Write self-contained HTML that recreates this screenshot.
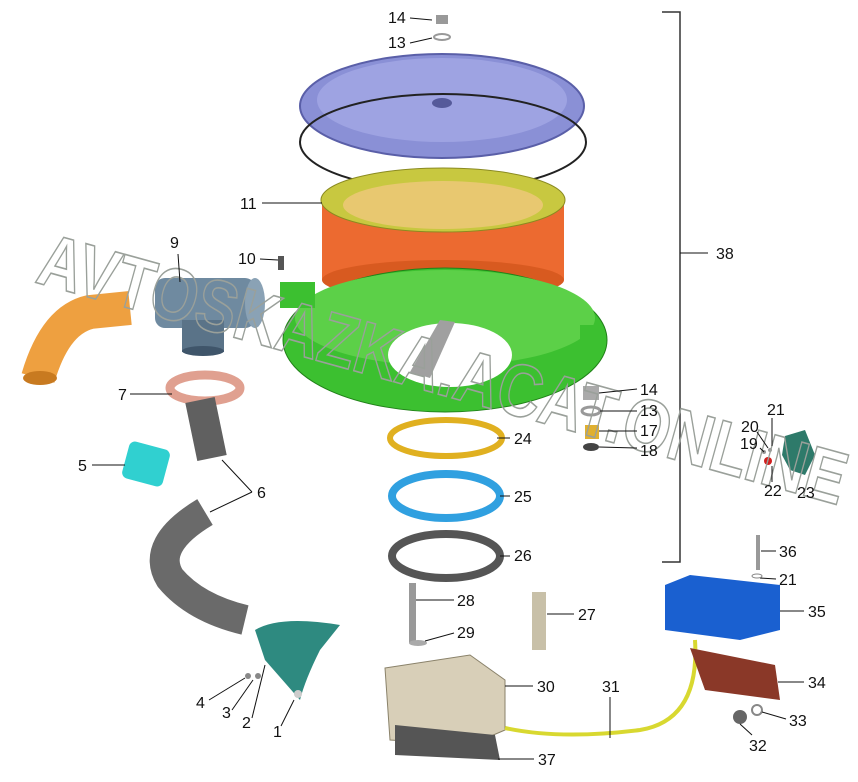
<!DOCTYPE html>
<html><head><meta charset="utf-8"><style>
html,body{margin:0;padding:0;background:#fff;}
svg{display:block;}
text{font-family:"Liberation Sans",Arial,sans-serif;}
.l{font-size:16px;fill:#111;}
.ld{stroke:#111;stroke-width:1;fill:none;}
</style></head><body>
<svg width="858" height="782" viewBox="0 0 858 782" xmlns="http://www.w3.org/2000/svg">
<path d="M662 12 H680 V562 H662" stroke="#333" stroke-width="1.5" fill="none"/>
<line x1="680" y1="253" x2="708" y2="253" class="ld"/>
<text x="716" y="259" class="l">38</text>

<path d="M38 378 Q55 320 90 312 L130 308" stroke="#eea040" stroke-width="34" fill="none"/>
<ellipse cx="40" cy="378" rx="17" ry="7" fill="#c87a20"/>
<rect x="155" y="278" width="100" height="50" rx="10" fill="#6f8aa0"/>
<ellipse cx="255" cy="303" rx="10" ry="25" fill="#8aa2b5"/>
<rect x="182" y="320" width="42" height="32" fill="#5a7388"/>
<ellipse cx="203" cy="351" rx="21" ry="5" fill="#3f556a"/>
<rect x="278" y="256" width="6" height="14" fill="#555"/>

<ellipse cx="442" cy="106" rx="142" ry="52" fill="#8a90d6" stroke="#5a5fa8" stroke-width="2"/>
<ellipse cx="442" cy="100" rx="125" ry="42" fill="#9ea3e2"/>
<ellipse cx="442" cy="103" rx="10" ry="5" fill="#555a9a"/>
<ellipse cx="443" cy="142" rx="143" ry="48" stroke="#222" stroke-width="2" fill="none"/>
<rect x="322" y="200" width="242" height="80" fill="#ec6a30"/>
<ellipse cx="443" cy="280" rx="121" ry="20" fill="#d85a20"/>
<ellipse cx="443" cy="200" rx="122" ry="32" fill="#c8c840" stroke="#8a8a20"/>
<ellipse cx="443" cy="205" rx="100" ry="24" fill="#e8c870"/>
<ellipse cx="445" cy="340" rx="162" ry="72" fill="#3cc030" stroke="#208018"/>
<ellipse cx="445" cy="318" rx="150" ry="48" fill="#5cd048"/>
<ellipse cx="450" cy="355" rx="62" ry="32" fill="#fff"/>
<rect x="280" y="282" width="35" height="26" fill="#3cc030"/>
<rect x="580" y="325" width="22" height="18" fill="#3cc030"/>
<path d="M410 372 L440 320 L455 322 L430 378 Z" fill="#a0a0a0"/>

<rect x="583" y="386" width="16" height="14" fill="#aaa"/>
<ellipse cx="591" cy="411" rx="9" ry="4" fill="none" stroke="#999" stroke-width="3"/>
<rect x="585" y="425" width="14" height="14" fill="#e0b030"/>
<ellipse cx="591" cy="447" rx="8" ry="4" fill="#444"/>
<path d="M785 436 L805 430 L815 455 L805 475 L790 470 L782 455 Z" fill="#2e7a6a"/>
<circle cx="768" cy="461" r="4" fill="#d02020"/>
<circle cx="770" cy="450" r="2" fill="#999"/>
<circle cx="764" cy="452" r="2" fill="#999"/>

<ellipse cx="446" cy="438" rx="56" ry="18" fill="none" stroke="#e0b020" stroke-width="6"/>
<ellipse cx="446" cy="496" rx="54" ry="22" fill="none" stroke="#30a0e0" stroke-width="8"/>
<ellipse cx="446" cy="556" rx="54" ry="22" fill="none" stroke="#555" stroke-width="8"/>

<ellipse cx="205" cy="388" rx="35" ry="13" fill="none" stroke="#e0a090" stroke-width="9"/>
<path d="M200 400 L212 458" stroke="#606060" stroke-width="30" fill="none"/>
<path d="M205 512 Q150 545 170 578 Q195 608 245 620" stroke="#6a6a6a" stroke-width="30" fill="none"/>
<rect x="125" y="445" width="42" height="38" rx="6" fill="#30d0d0" transform="rotate(15 146 464)"/>
<path d="M255 630 Q280 615 340 625 L320 650 Q305 680 300 700 L265 660 Z" fill="#2e8a80"/>
<circle cx="248" cy="676" r="3" fill="#888"/><circle cx="258" cy="676" r="3" fill="#888"/>
<circle cx="298" cy="694" r="4" fill="#ccc"/>

<rect x="409" y="583" width="7" height="60" fill="#999"/>
<ellipse cx="418" cy="643" rx="9" ry="3" fill="#aaa"/>
<rect x="532" y="592" width="14" height="58" fill="#c8c0a8"/>
<path d="M385 668 L470 655 L505 680 L505 730 L470 745 L390 740 Z" fill="#d8cfb8" stroke="#8a826a"/>
<path d="M395 725 L495 735 L500 760 L395 755 Z" fill="#555"/>
<path d="M505 728 Q560 740 640 730 Q700 720 695 640" stroke="#d8d830" stroke-width="4" fill="none"/>
<path d="M665 585 L690 575 L780 585 L780 630 L740 640 L665 630 Z" fill="#1a60d0"/>
<rect x="756" y="535" width="4" height="35" fill="#999"/>
<path d="M690 648 L775 665 L780 700 L705 690 Z" fill="#8a3828"/>
<circle cx="740" cy="717" r="7" fill="#666"/>
<circle cx="757" cy="710" r="5" fill="none" stroke="#888" stroke-width="2"/>

<text x="0" y="0" transform="translate(34,282) rotate(15.5)" font-size="74" font-weight="bold" fill="none" stroke="#9aa09a" stroke-width="1.6" textLength="835" lengthAdjust="spacingAndGlyphs" style="font-family:'Liberation Sans',sans-serif">AVTOSKAZKA.ACAT.ONLINE</text>

<text x="388" y="23" class="l">14</text><line x1="410" y1="18" x2="432" y2="20" class="ld"/>
<text x="388" y="48" class="l">13</text><line x1="410" y1="43" x2="432" y2="38" class="ld"/>
<rect x="436" y="15" width="12" height="9" fill="#999"/><ellipse cx="442" cy="37" rx="8" ry="3" fill="none" stroke="#999" stroke-width="2"/>
<text x="240" y="209" class="l">11</text><line x1="262" y1="203" x2="322" y2="203" class="ld"/>
<text x="170" y="248" class="l">9</text><line x1="178" y1="254" x2="180" y2="282" class="ld"/>
<text x="238" y="264" class="l">10</text><line x1="260" y1="259" x2="278" y2="260" class="ld"/>
<text x="118" y="400" class="l">7</text><line x1="130" y1="394" x2="172" y2="394" class="ld"/>
<text x="78" y="471" class="l">5</text><line x1="92" y1="465" x2="125" y2="465" class="ld"/>
<text x="257" y="498" class="l">6</text><path d="M222 460 L252 492 M252 492 L210 512" class="ld"/>
<text x="514" y="444" class="l">24</text><line x1="497" y1="438" x2="510" y2="438" class="ld"/>
<text x="514" y="502" class="l">25</text><line x1="500" y1="496" x2="510" y2="496" class="ld"/>
<text x="514" y="561" class="l">26</text><line x1="500" y1="556" x2="510" y2="556" class="ld"/>
<text x="640" y="395" class="l">14</text><line x1="599" y1="393" x2="637" y2="389" class="ld"/>
<text x="640" y="416" class="l">13</text><line x1="600" y1="411" x2="637" y2="411" class="ld"/>
<text x="640" y="436" class="l">17</text><line x1="599" y1="431" x2="637" y2="431" class="ld"/>
<text x="640" y="456" class="l">18</text><line x1="599" y1="447" x2="637" y2="448" class="ld"/>
<text x="740" y="449" class="l">19</text><line x1="760" y1="448" x2="764" y2="452" class="ld"/>
<text x="741" y="432" class="l">20</text><line x1="757" y1="432" x2="768" y2="448" class="ld"/>
<text x="767" y="415" class="l">21</text><line x1="772" y1="418" x2="772" y2="446" class="ld"/>
<text x="764" y="496" class="l">22</text><line x1="772" y1="466" x2="772" y2="482" class="ld"/>
<text x="797" y="498" class="l">23</text>
<text x="779" y="557" class="l">36</text><line x1="761" y1="551" x2="776" y2="551" class="ld"/>
<text x="779" y="585" class="l">21</text><line x1="760" y1="578" x2="776" y2="579" class="ld"/>
<ellipse cx="757" cy="576" rx="5" ry="2" fill="none" stroke="#888"/>
<text x="808" y="617" class="l">35</text><line x1="780" y1="611" x2="804" y2="611" class="ld"/>
<text x="808" y="688" class="l">34</text><line x1="778" y1="682" x2="804" y2="682" class="ld"/>
<text x="789" y="726" class="l">33</text><line x1="762" y1="712" x2="786" y2="719" class="ld"/>
<text x="749" y="751" class="l">32</text><line x1="740" y1="724" x2="752" y2="735" class="ld"/>
<text x="457" y="606" class="l">28</text><line x1="416" y1="600" x2="454" y2="600" class="ld"/>
<text x="578" y="620" class="l">27</text><line x1="547" y1="614" x2="574" y2="614" class="ld"/>
<text x="457" y="638" class="l">29</text><line x1="425" y1="641" x2="454" y2="633" class="ld"/>
<text x="537" y="692" class="l">30</text><line x1="505" y1="686" x2="533" y2="686" class="ld"/>
<text x="602" y="692" class="l">31</text><line x1="610" y1="697" x2="610" y2="738" class="ld"/>
<text x="538" y="765" class="l">37</text><line x1="498" y1="759" x2="534" y2="759" class="ld"/>
<text x="196" y="708" class="l">4</text><line x1="209" y1="700" x2="245" y2="678" class="ld"/>
<text x="222" y="718" class="l">3</text><line x1="232" y1="710" x2="253" y2="680" class="ld"/>
<text x="242" y="728" class="l">2</text><line x1="252" y1="718" x2="265" y2="665" class="ld"/>
<text x="273" y="737" class="l">1</text><line x1="281" y1="726" x2="294" y2="700" class="ld"/>
</svg>
</body></html>
